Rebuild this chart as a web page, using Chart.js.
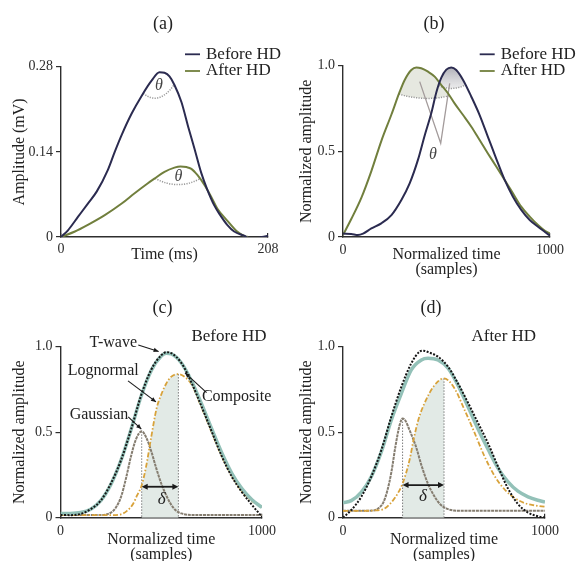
<!DOCTYPE html>
<html>
<head>
<meta charset="utf-8">
<title>T-wave before and after HD</title>
<script src="https://cdn.jsdelivr.net/npm/chart.js@4.4.1/dist/chart.umd.min.js"></script>
<style>
  html, body { margin: 0; padding: 0; background: #fff; overflow: hidden; }
  body { width: 577px; height: 561px; position: relative; }
  .panel { position: absolute; }
</style>
</head>
<body>
<div class="panel" style="left:0;top:0"><canvas id="chartA" width="290" height="290"></canvas></div>
<div class="panel" style="left:288px;top:0"><canvas id="chartB" width="289" height="290"></canvas></div>
<div class="panel" style="left:0;top:280px"><canvas id="chartC" width="290" height="290"></canvas></div>
<div class="panel" style="left:288px;top:280px"><canvas id="chartD" width="289" height="290"></canvas></div>
<script>
// ---- (a) raw T-waves, time in ms, amplitude in mV ----
const aBeforeTime = [0, 7, 17, 27, 36, 47, 54, 61, 71, 81, 91, 99, 104, 109, 114, 121, 128, 134, 141, 147, 154, 160, 167, 174, 184, 191, 197, 202, 208];
const aBeforeAmp  = [0, 0.011, 0.033, 0.055, 0.075, 0.11, 0.14, 0.168, 0.203, 0.232, 0.257, 0.271, 0.27, 0.264, 0.25, 0.222, 0.18, 0.146, 0.105, 0.078, 0.052, 0.036, 0.02, 0.009, 0.002, -0.003, -0.002, 0, 0.002];
const aAfterTime  = [0, 14, 27, 44, 61, 74, 87, 94, 104, 114, 120, 126, 131, 137, 144, 151, 157, 167, 177, 185, 188];
const aAfterAmp   = [0, 0.009, 0.02, 0.036, 0.055, 0.072, 0.088, 0.096, 0.107, 0.114, 0.116, 0.115, 0.112, 0.102, 0.086, 0.066, 0.047, 0.027, 0.009, 0.001, 0];
const aYTicks = [0, 0.14, 0.28];
const aYLabels = ['0', '0.14', '0.28'];
const aXTicks = [0, 208];

// ---- (b) normalized T-waves ----
const bBeforeX = [0, 40, 72, 97, 137, 185, 234, 282, 322, 362, 394, 427, 451, 475, 499, 523, 547, 580, 620, 660, 700, 741, 781, 821, 861, 902, 942, 974, 1000];
const bBeforeY = [0.02, 0.018, 0.012, 0.02, 0.05, 0.08, 0.128, 0.216, 0.313, 0.45, 0.59, 0.725, 0.845, 0.93, 0.977, 0.99, 0.975, 0.917, 0.819, 0.712, 0.585, 0.455, 0.333, 0.235, 0.158, 0.099, 0.06, 0.031, 0.008];
const bAfterX  = [0, 40, 89, 137, 185, 234, 274, 298, 330, 354, 378, 411, 443, 475, 507, 539, 580, 620, 660, 700, 741, 781, 821, 861, 902, 942, 982, 1000];
const bAfterY  = [0.012, 0.105, 0.23, 0.385, 0.56, 0.715, 0.848, 0.917, 0.975, 0.99, 0.985, 0.965, 0.936, 0.887, 0.839, 0.78, 0.712, 0.644, 0.566, 0.488, 0.41, 0.333, 0.255, 0.177, 0.119, 0.07, 0.031, 0.021];

const normYTicks = [0, 0.5, 1.0];
const normYLabels = ['0', '0.5', '1.0'];
const normXTicks = [0, 1000];

// ---- (c) fit before HD ----
const cTwaveX = [0, 50, 100, 150, 200, 250, 300, 350, 400, 450, 500, 525, 550, 600, 650, 700, 750, 800, 850, 900, 950, 1000];
const cTwaveY = [0.016, 0.015, 0.022, 0.05, 0.1, 0.2, 0.335, 0.515, 0.715, 0.865, 0.95, 0.968, 0.962, 0.905, 0.79, 0.65, 0.505, 0.36, 0.24, 0.15, 0.075, 0.005];
const cCompX  = [0, 50, 100, 150, 200, 250, 300, 350, 400, 450, 500, 525, 550, 600, 650, 700, 750, 800, 850, 900, 950, 1000];
const cCompY  = [0.025, 0.025, 0.03, 0.05, 0.1, 0.195, 0.335, 0.515, 0.71, 0.86, 0.945, 0.962, 0.958, 0.905, 0.8, 0.665, 0.52, 0.38, 0.26, 0.17, 0.105, 0.06];
const cLognX  = [0, 250, 300, 330, 360, 380, 403, 425, 450, 477, 500, 525, 550, 585, 620, 650, 700, 750, 800, 850, 900, 950, 1000];
const cLognY  = [0.015, 0.015, 0.02, 0.04, 0.08, 0.13, 0.19, 0.3, 0.47, 0.64, 0.72, 0.785, 0.825, 0.84, 0.82, 0.78, 0.645, 0.5, 0.36, 0.245, 0.155, 0.098, 0.064];
const cGaussX = [0, 200, 250, 275, 300, 325, 350, 375, 403, 425, 450, 475, 500, 525, 550, 575, 600, 650, 1000];
const cGaussY = [0.016, 0.016, 0.03, 0.06, 0.12, 0.23, 0.36, 0.46, 0.505, 0.47, 0.39, 0.29, 0.2, 0.13, 0.075, 0.04, 0.025, 0.016, 0.016];

// ---- (d) fit after HD ----
const dTwaveX = [0, 41, 91, 140, 190, 239, 289, 338, 379, 396, 429, 470, 520, 569, 619, 668, 718, 767, 817, 866, 916, 965, 1000];
const dTwaveY = [0, 0.045, 0.123, 0.24, 0.396, 0.59, 0.766, 0.903, 0.971, 0.977, 0.965, 0.942, 0.883, 0.786, 0.672, 0.555, 0.435, 0.3, 0.17, 0.08, 0.03, 0.008, 0];
const dCompX  = [0, 41, 91, 140, 190, 239, 289, 338, 388, 421, 470, 520, 569, 619, 668, 718, 767, 817, 866, 916, 965, 1000];
const dCompY  = [0.088, 0.1, 0.15, 0.24, 0.386, 0.571, 0.727, 0.864, 0.922, 0.932, 0.922, 0.874, 0.775, 0.648, 0.52, 0.4, 0.29, 0.21, 0.155, 0.122, 0.102, 0.092];
const dLognX  = [0, 100, 150, 200, 240, 270, 295, 330, 350, 375, 400, 450, 500, 550, 600, 650, 700, 750, 800, 850, 900, 950, 1000];
const dLognY  = [0.04, 0.04, 0.042, 0.05, 0.09, 0.14, 0.2, 0.34, 0.46, 0.58, 0.66, 0.77, 0.815, 0.76, 0.635, 0.5, 0.36, 0.245, 0.165, 0.115, 0.085, 0.072, 0.064];
const dGaussX = [0, 150, 180, 200, 220, 240, 260, 280, 295, 310, 330, 360, 390, 420, 450, 480, 510, 550, 600, 1000];
const dGaussY = [0.04, 0.042, 0.06, 0.09, 0.16, 0.27, 0.42, 0.54, 0.58, 0.565, 0.51, 0.42, 0.3, 0.2, 0.13, 0.08, 0.055, 0.042, 0.04, 0.04];

const FONT = '"Liberation Serif", "Times New Roman", serif';
const INK = '#2e2e2e';
const NAVY = '#2b2b50';
const OLIVE = '#717f3d';
const TEAL = '#93c1b8';
const GOLD = '#d8a23a';
const GAUSS = '#857d70';

const pts = (xs, ys) => xs.map((x, i) => ({ x, y: ys[i] }));

function valueAt(xs, ys, x) {
    for (let i = 1; i < xs.length; i++) {
        if (x <= xs[i]) {
            const t = (x - xs[i - 1]) / (xs[i] - xs[i - 1]);
            return ys[i - 1] + t * (ys[i] - ys[i - 1]);
        }
    }
    return ys[ys.length - 1];
}

function peakOf(xs, ys) {
    let k = 0;
    ys.forEach((v, i) => { if (v > ys[k]) k = i; });
    return { x: xs[k], y: ys[k] };
}

function lineDs(label, xs, ys, color, width, dash) {
    return {
        label, data: pts(xs, ys),
        borderColor: color, borderWidth: width, borderDash: dash || [],
        pointRadius: 0, fill: false, cubicInterpolationMode: 'monotone'
    };
}

function makeScales(c) {
    return {
        x: {
            type: 'linear', min: 0, max: c.xTicks[c.xTicks.length - 1],
            afterBuildTicks: s => { s.ticks = c.xTicks.map(v => ({ value: v })); },
            afterFit: s => { s.height = c.xHeight; },
            ticks: { callback: v => String(v), font: { family: FONT, size: 14 }, color: INK, padding: c.xPad, maxRotation: 0, autoSkip: false },
            grid: { display: true, drawOnChartArea: false, drawTicks: true, tickLength: -4, color: INK, lineWidth: 1.2 },
            border: { display: true, color: INK, width: 1.4 },
            title: { display: true, text: c.xTitle, color: '#222', font: { family: FONT, size: 16, lineHeight: 0.95 }, padding: { top: 0, bottom: c.xTitlePad } }
        },
        y: {
            type: 'linear', min: 0, max: c.yTicks[c.yTicks.length - 1],
            afterBuildTicks: s => { s.ticks = c.yTicks.map(v => ({ value: v })); },
            afterFit: s => { s.width = c.yWidth; },
            ticks: { callback: (v, i) => c.yLabels[i], font: { family: FONT, size: 14 }, color: INK, padding: 3 },
            grid: { display: true, drawOnChartArea: false, drawTicks: true, tickLength: 5, color: INK, lineWidth: 1.2 },
            border: { display: true, color: INK, width: 1.4 },
            title: { display: true, text: c.yTitle, color: '#222', font: { family: FONT, size: 16 }, padding: { top: c.yTitlePad, bottom: 0 } }
        }
    };
}

function baseOptions(c) {
    return {
        responsive: false, animation: false, devicePixelRatio: 1, events: [],
        layout: { padding: { left: 0, right: c.padRight, top: c.padTop, bottom: c.padBottom } },
        plugins: { legend: { display: false }, tooltip: { enabled: false }, title: { display: false } },
        scales: makeScales(c)
    };
}

// ---------- drawing helpers ----------
function P(chart, x, y) {
    return [chart.scales.x.getPixelForValue(x), chart.scales.y.getPixelForValue(y)];
}

function text(ctx, str, x, y, size, align, style, color) {
    ctx.font = (style ? style + ' ' : '') + size + 'px ' + FONT;
    ctx.fillStyle = color || '#222';
    ctx.textAlign = align || 'center';
    ctx.textBaseline = 'middle';
    ctx.fillText(str, x, y);
}

function head(ctx, x1, y1, x2, y2, len, half) {
    const a = Math.atan2(y2 - y1, x2 - x1);
    const bx = x2 - len * Math.cos(a), by = y2 - len * Math.sin(a);
    ctx.beginPath();
    ctx.moveTo(x2, y2);
    ctx.lineTo(bx + half * Math.sin(a), by - half * Math.cos(a));
    ctx.lineTo(bx - half * Math.sin(a), by + half * Math.cos(a));
    ctx.closePath();
    ctx.fill();
}

function pointer(chart, ctx, from, to) {
    const [x1, y1] = P(chart, from[0], from[1]);
    const [x2, y2] = P(chart, to[0], to[1]);
    ctx.strokeStyle = '#1a1a1a';
    ctx.fillStyle = '#1a1a1a';
    ctx.lineWidth = 1.1;
    ctx.setLineDash([]);
    ctx.beginPath(); ctx.moveTo(x1, y1); ctx.lineTo(x2, y2); ctx.stroke();
    head(ctx, x1, y1, x2, y2, 5, 2.2);
}

function tracePath(chart, ctx, dsIndex) {
    const meta = chart.getDatasetMeta(dsIndex);
    const line = meta.dataset;
    if (line && typeof line.path === 'function') {
        if (typeof line.updateControlPoints === 'function') line.updateControlPoints(chart.chartArea, 'x');
        line.path(ctx);
    } else {
        meta.data.forEach((p, i) => (i ? ctx.lineTo(p.x, p.y) : ctx.moveTo(p.x, p.y)));
    }
    return meta.data;
}

// fill under a dataset between two x values
function fillUnder(chart, ctx, dsIndex, x1, x2, color) {
    const area = chart.chartArea;
    const p1 = chart.scales.x.getPixelForValue(x1);
    const p2 = chart.scales.x.getPixelForValue(x2);
    const base = chart.scales.y.getPixelForValue(0);
    ctx.save();
    ctx.beginPath(); ctx.rect(p1, area.top - 20, p2 - p1, base - area.top + 20); ctx.clip();
    ctx.beginPath();
    const d = tracePath(chart, ctx, dsIndex);
    ctx.lineTo(d[d.length - 1].x, base);
    ctx.lineTo(d[0].x, base);
    ctx.closePath();
    ctx.fillStyle = color;
    ctx.fill();
    ctx.restore();
}

// angle marker below a peak: arc between two points of a curve
function peakArc(chart, ctx, xs, ys, x1, x2, depth) {
    const [ax, ay] = P(chart, x1, valueAt(xs, ys, x1));
    const [bx, by] = P(chart, x2, valueAt(xs, ys, x2));
    const cx = (ax + bx) / 2, cy = Math.max(ay, by) + 2 * depth;
    return { ax, ay, bx, by, cx, cy };
}

function strokeArc(ctx, a) {
    ctx.save();
    ctx.strokeStyle = '#9a9a9a';
    ctx.lineWidth = 1.5;
    ctx.setLineDash([1.2, 1.3]);
    ctx.beginPath();
    ctx.moveTo(a.ax, a.ay);
    ctx.quadraticCurveTo(a.cx, a.cy, a.bx, a.by);
    ctx.stroke();
    ctx.restore();
}

function shadeArc(chart, ctx, dsIndex, a, fillStyle) {
    const top = chart.chartArea.top - 30;
    ctx.save();
    ctx.beginPath();
    ctx.moveTo(a.ax, top);
    ctx.lineTo(a.ax, a.ay);
    ctx.quadraticCurveTo(a.cx, a.cy, a.bx, a.by);
    ctx.lineTo(a.bx, top);
    ctx.closePath();
    ctx.clip();
    ctx.beginPath();
    const d = tracePath(chart, ctx, dsIndex);
    const base = chart.scales.y.getPixelForValue(0);
    ctx.lineTo(d[d.length - 1].x, base);
    ctx.lineTo(d[0].x, base);
    ctx.closePath();
    ctx.fillStyle = fillStyle;
    ctx.fill();
    ctx.restore();
}

function drawLegend(chart, ctx, x, y0, gap) {
    chart.data.datasets.forEach((ds, i) => {
        const y = y0 + i * gap;
        ctx.strokeStyle = ds.borderColor;
        ctx.lineWidth = 1.8;
        ctx.setLineDash([]);
        ctx.beginPath(); ctx.moveTo(x, y); ctx.lineTo(x + 15, y); ctx.stroke();
        text(ctx, ds.label, x + 21, y, 17, 'left');
    });
}

function decor(panel, before, after) {
    return {
        id: 'decor',
        beforeDatasetsDraw(chart) {
            if (!before) return;
            chart.ctx.save(); before(chart, chart.ctx); chart.ctx.restore();
        },
        afterDatasetsDraw(chart) {
            const ctx = chart.ctx;
            ctx.save();
            if (after) after(chart, ctx);
            text(ctx, panel.text, panel.x, panel.y, 18);
            ctx.restore();
        }
    };
}

// fit panels share the Gaussian/lognormal shading, guide lines and delta arrow
function fitBefore(gx, gy, lx, ly) {
    const g = peakOf(gx, gy), l = peakOf(lx, ly);
    return (chart, ctx) => {
        fillUnder(chart, ctx, 2, g.x, l.x, '#e2eae6');
        ctx.strokeStyle = '#7d7d7d';
        ctx.lineWidth = 1;
        ctx.setLineDash([1.5, 1.5]);
        [g, l].forEach(p => {
            const [x, y] = P(chart, p.x, p.y);
            const [, y0] = P(chart, p.x, 0);
            ctx.beginPath(); ctx.moveTo(x, y); ctx.lineTo(x, y0); ctx.stroke();
        });
    };
}

function deltaArrow(chart, ctx, gx, gy, lx, ly, yv, labelPos) {
    const g = peakOf(gx, gy), l = peakOf(lx, ly);
    const [x1, y] = P(chart, g.x, yv);
    const [x2] = P(chart, l.x, yv);
    ctx.strokeStyle = '#1a1a1a';
    ctx.fillStyle = '#1a1a1a';
    ctx.lineWidth = 1.8;
    ctx.setLineDash([]);
    ctx.beginPath(); ctx.moveTo(x1 + 4, y); ctx.lineTo(x2 - 4, y); ctx.stroke();
    head(ctx, x2, y, x1, y, 6, 3);
    head(ctx, x1, y, x2, y, 6, 3);
    const [tx, ty] = P(chart, labelPos[0], labelPos[1]);
    text(ctx, 'δ', tx, ty, 17, 'center', 'italic');
}

// ---------- (a) ----------
const cfgA = {
    xTicks: aXTicks, yTicks: aYTicks, yLabels: aYLabels,
    xTitle: 'Time (ms)', yTitle: 'Amplitude (mV)',
    yWidth: 61, padRight: 22, padTop: 66.7, padBottom: 23, xHeight: 30,
    xPad: 7.6, xTitlePad: 4.9, yTitlePad: 10.4
};
new Chart(document.getElementById('chartA'), {
    type: 'line',
    data: { datasets: [
        lineDs('Before HD', aBeforeTime, aBeforeAmp, NAVY, 2),
        lineDs('After HD', aAfterTime, aAfterAmp, OLIVE, 2)
    ] },
    options: baseOptions(cfgA),
    plugins: [decor({ text: '(a)', x: 163, y: 24 },
        (chart, ctx) => {
            strokeArc(ctx, peakArc(chart, ctx, aBeforeTime, aBeforeAmp, 82.7, 113.8, 6.5));
            strokeArc(ctx, peakArc(chart, ctx, aAfterTime, aAfterAmp, 94.5, 139.7, 6));
        },
        (chart, ctx) => {
            let [x, y] = P(chart, 98.5, 0.248);
            text(ctx, 'θ', x, y, 16, 'center', 'italic', '#444');
            [x, y] = P(chart, 117.9, 0.099);
            text(ctx, 'θ', x, y, 16, 'center', 'italic', '#444');
            drawLegend(chart, ctx, 185, 54.3, 16.7);
        })]
});

// ---------- (b) ----------
const cfgB = {
    xTicks: normXTicks, yTicks: normYTicks, yLabels: normYLabels,
    xTitle: ['Normalized time', '(samples)'], yTitle: 'Normalized amplitude',
    yWidth: 55, padRight: 27, padTop: 65.7, padBottom: 8, xHeight: 45,
    xPad: 8.6, xTitlePad: 4.4, yTitlePad: 9.4
};
new Chart(document.getElementById('chartB'), {
    type: 'line',
    data: { datasets: [
        lineDs('Before HD', bBeforeX, bBeforeY, NAVY, 2),
        lineDs('After HD', bAfterX, bAfterY, OLIVE, 2)
    ] },
    options: baseOptions(cfgB),
    plugins: [decor({ text: '(b)', x: 146, y: 24 },
        (chart, ctx) => {
            const olive = peakArc(chart, ctx, bAfterX, bAfterY, 270, 515, 3);
            const navy = peakArc(chart, ctx, bBeforeX, bBeforeY, 462, 592, 3);
            shadeArc(chart, ctx, 1, olive, 'rgba(226,228,218,0.85)');
            const [, pk] = P(chart, 523, 0.99);
            const grad = ctx.createLinearGradient(0, pk, 0, navy.cy);
            grad.addColorStop(0, 'rgba(150,150,160,0.75)');
            grad.addColorStop(1, 'rgba(235,235,235,0.6)');
            shadeArc(chart, ctx, 0, navy, grad);
            strokeArc(ctx, olive);
            strokeArc(ctx, navy);
            const [v1x, v1y] = P(chart, 370.5, 0.907);
            const [v2x, v2y] = P(chart, 515.5, 0.897);
            const [vx, vy] = P(chart, 472, 0.547);
            ctx.strokeStyle = '#a39b9b';
            ctx.lineWidth = 1.3;
            ctx.setLineDash([]);
            ctx.beginPath(); ctx.moveTo(v1x, v1y); ctx.lineTo(vx, vy); ctx.lineTo(v2x, v2y); ctx.stroke();
        },
        (chart, ctx) => {
            const [x, y] = P(chart, 435, 0.479);
            text(ctx, 'θ', x, y, 16, 'center', 'italic', '#444');
            drawLegend(chart, ctx, 191.7, 54.3, 16.7);
        })]
});

// ---------- (c) ----------
const cfgC = {
    xTicks: normXTicks, yTicks: normYTicks, yLabels: normYLabels,
    xTitle: ['Normalized time', '(samples)'], yTitle: 'Normalized amplitude',
    yWidth: 60.5, padRight: 28, padTop: 66.7, padBottom: 7.3, xHeight: 45,
    xPad: 8.9, xTitlePad: 0.1, yTitlePad: 10.4
};
function fitDatasets(tx, ty, cx, cy, lx, ly, gx, gy) {
    return [
        lineDs('T-wave', tx, ty, '#151515', 2, [2, 1.5]),
        lineDs('Composite', cx, cy, TEAL, 3.5),
        lineDs('Lognormal', lx, ly, GOLD, 1.8, [5, 2, 1.5, 2]),
        lineDs('Gaussian', gx, gy, GAUSS, 2, [3, 0.8])
    ];
}
new Chart(document.getElementById('chartC'), {
    type: 'line',
    data: { datasets: fitDatasets(cTwaveX, cTwaveY, cCompX, cCompY, cLognX, cLognY, cGaussX, cGaussY) },
    options: baseOptions(cfgC),
    plugins: [decor({ text: '(c)', x: 162.5, y: 28 },
        fitBefore(cGaussX, cGaussY, cLognX, cLognY),
        (chart, ctx) => {
            deltaArrow(chart, ctx, cGaussX, cGaussY, cLognX, cLognY, 0.181, [502, 0.104]);
            let [x, y] = P(chart, 262, 1.02);
            text(ctx, 'T-wave', x, y, 16);
            pointer(chart, ctx, [386, 1.01], [487, 0.972]);
            [x, y] = P(chart, 212, 0.86);
            text(ctx, 'Lognormal', x, y, 16);
            pointer(chart, ctx, [335, 0.8], [474, 0.677]);
            [x, y] = P(chart, 191, 0.6);
            text(ctx, 'Gaussian', x, y, 16);
            pointer(chart, ctx, [336, 0.59], [401, 0.518]);
            [x, y] = P(chart, 874, 0.708);
            text(ctx, 'Composite', x, y, 16);
            pointer(chart, ctx, [725, 0.731], [618, 0.847]);
            [x, y] = P(chart, 836, 1.058);
            text(ctx, 'Before HD', x, y, 17);
        })]
});

// ---------- (d) ----------
const cfgD = {
    xTicks: normXTicks, yTicks: normYTicks, yLabels: normYLabels,
    xTitle: ['Normalized time', '(samples)'], yTitle: 'Normalized amplitude',
    yWidth: 55, padRight: 32, padTop: 66.7, padBottom: 7.3, xHeight: 45,
    xPad: 8.9, xTitlePad: 0.1, yTitlePad: 9.4
};
new Chart(document.getElementById('chartD'), {
    type: 'line',
    data: { datasets: fitDatasets(dTwaveX, dTwaveY, dCompX, dCompY, dLognX, dLognY, dGaussX, dGaussY) },
    options: baseOptions(cfgD),
    plugins: [decor({ text: '(d)', x: 143, y: 28 },
        fitBefore(dGaussX, dGaussY, dLognX, dLognY),
        (chart, ctx) => {
            deltaArrow(chart, ctx, dGaussX, dGaussY, dLognX, dLognY, 0.191, [396, 0.123]);
            const [x, y] = P(chart, 796, 1.058);
            text(ctx, 'After HD', x, y, 17);
        })]
});
</script>
</body>
</html>
